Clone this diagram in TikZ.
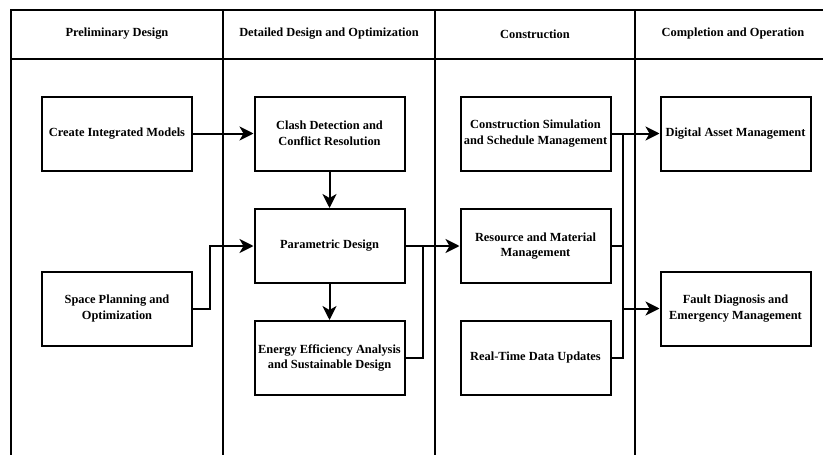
\documentclass[tikz,border=0pt]{standalone}
\usepackage{fontspec}
\setmainfont{Liberation Serif}
\usetikzlibrary{arrows.meta,positioning}

\begin{document}
\begin{tikzpicture}[x=1pt,y=-1pt,
	stage/.style={draw,line width=2pt,minimum width=150pt,minimum height=74pt,inner sep=1pt,align=center,font=\fontsize{12.4}{15.5}\selectfont\bfseries},
	head/.style={font=\fontsize{12.4}{15.5}\selectfont\bfseries},
	link/.style={line width=2pt,-{Stealth[length=14pt,width=14pt,inset=4pt]}},
	wire/.style={line width=2pt}]
\useasboundingbox (0,0) rectangle (823,455);

% frame
\draw[wire] (11,455) -- (11,10) -- (823,10);
\draw[wire] (11,59) -- (823,59);
\foreach \x in {223,435,635}
	\draw[wire] (\x,10) -- (\x,455);

\node[head] at (117,34) (h1) {Preliminary Design};
\node[head] at (329,34) (h2) {Detailed Design and Optimization};
\node[head] at (535,34) (h3) {Construction};
\node[head] at (733,34) (h4) {Completion and Operation};

\node[stage] at (117,133.5) (create) {Create Integrated Models};
\node[stage] at (117,308.5) (space) {Space Planning and\\Optimization};

\node[stage] at (329.5,133.5) (clash) {Clash Detection and\\Conflict Resolution};
\node[stage] at (329.5,246) (param) {Parametric Design};
\node[stage] at (329.5,358) (energy) {Energy Efficiency Analysis\\and Sustainable Design};

\node[stage] at (535.5,133.5) (csim) {Construction Simulation\\and Schedule Management};
\node[stage] at (535.5,246) (res) {Resource and Material\\Management};
\node[stage] at (535.5,358) (rtd) {Real-Time Data Updates};

\node[stage] at (735.5,133.5) (asset) {Digital Asset Management};
\node[stage] at (735.5,308.5) (fault) {Fault Diagnosis and\\Emergency Management};

\coordinate (j1) at (423,246);
\coordinate (j2) at (623,133.5);
\coordinate (j3) at (623,308.5);

\draw[link] (create) -- (clash);
\draw[link] (clash) -- (param);
\draw[link] (param) -- (energy);
\draw[link] (space.east) -- ++(17,0) |- (param.west);

\draw[link] (param) -- (res);
\draw[wire] (energy.east) -| (j1);

\draw[link] (csim) -- (asset);
\draw[wire] (res.east) -| (j2);
\draw[wire] (rtd.east) -| (j2);
\draw[link] (j3) -- (fault);
\end{tikzpicture}
\end{document}
